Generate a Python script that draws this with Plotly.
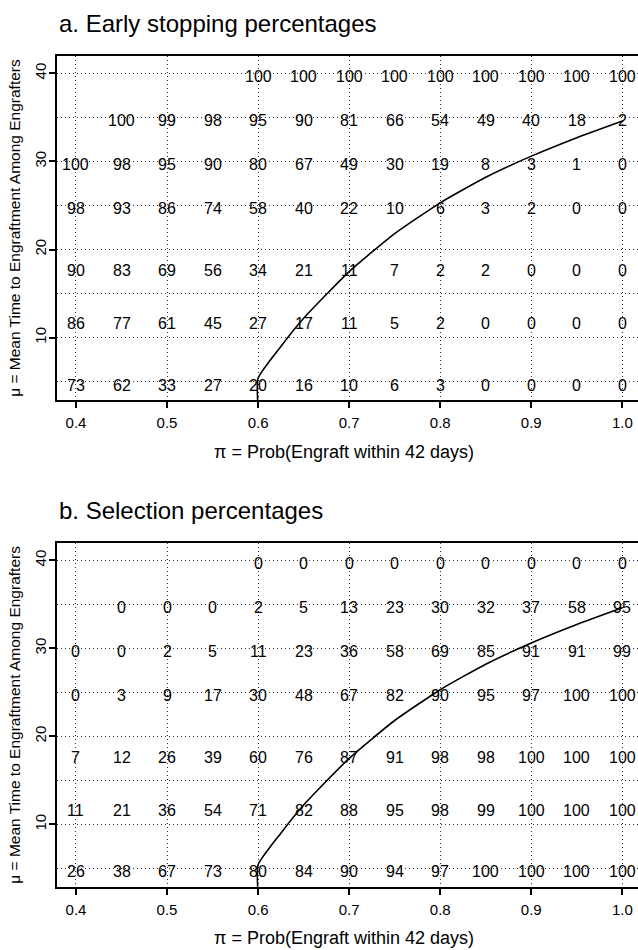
import plotly.graph_objects as go

# ---------------- data ----------------
pi_values = [0.40, 0.45, 0.50, 0.55, 0.60, 0.65, 0.70, 0.75, 0.80, 0.85, 0.90, 0.95, 1.00]
mu_values = [40, 35, 30, 25, 18, 12, 5]

early_stop = [
    [None, None, None, None, 100, 100, 100, 100, 100, 100, 100, 100, 100],
    [None, 100, 99, 98, 95, 90, 81, 66, 54, 49, 40, 18, 2],
    [100, 98, 95, 90, 80, 67, 49, 30, 19, 8, 3, 1, 0],
    [98, 93, 86, 74, 58, 40, 22, 10, 6, 3, 2, 0, 0],
    [90, 83, 69, 56, 34, 21, 11, 7, 2, 2, 0, 0, 0],
    [86, 77, 61, 45, 27, 17, 11, 5, 2, 0, 0, 0, 0],
    [73, 62, 33, 27, 20, 16, 10, 6, 3, 0, 0, 0, 0],
]

selection = [
    [None, None, None, None, 0, 0, 0, 0, 0, 0, 0, 0, 0],
    [None, 0, 0, 0, 2, 5, 13, 23, 30, 32, 37, 58, 95],
    [0, 0, 2, 5, 11, 23, 36, 58, 69, 85, 91, 91, 99],
    [0, 3, 9, 17, 30, 48, 67, 82, 90, 95, 97, 100, 100],
    [7, 12, 26, 39, 60, 76, 87, 91, 98, 98, 100, 100, 100],
    [11, 21, 36, 54, 71, 82, 88, 95, 98, 99, 100, 100, 100],
    [26, 38, 67, 73, 80, 84, 90, 94, 97, 100, 100, 100, 100],
]

curve_pi = [0.600, 0.600, 0.625, 0.650, 0.700, 0.750, 0.800, 0.850, 0.900, 0.950, 1.000]
curve_mu = [2.0, 5.4, 9.0, 12.2, 17.5, 21.8, 25.3, 28.2, 30.6, 32.7, 34.6]

x_ticks = [0.4, 0.5, 0.6, 0.7, 0.8, 0.9, 1.0]
y_ticks = [10, 20, 30, 40]

panel_titles = ["a. Early stopping percentages", "b. Selection percentages"]
x_title = "π = Prob(Engraft within 42 days)"
y_title = "μ = Mean Time to Engraftment Among Engrafters"

# ---------------- layout geometry (px) ----------------
W, H = 638, 950
FONT = "Liberation Sans, Arial, Helvetica, sans-serif"
left_px, right_px = 57.3, 638
panels_px = [(55.7, 400.0), (542.7, 886.7)]  # (top, bottom)


def px_x(p):
    return p / W


def px_y(p):
    return 1 - p / H


fig = go.Figure()
annotations = []

for k, (grid, (top, bot)) in enumerate(zip([early_stop, selection], panels_px)):
    sfx = "" if k == 0 else str(k + 1)
    xa, ya = "x" + sfx, "y" + sfx

    # curve
    fig.add_trace(go.Scatter(
        x=curve_pi, y=curve_mu, mode="lines",
        line=dict(color="black", width=1.6, shape="spline", smoothing=0.5),
        xaxis=xa, yaxis=ya, showlegend=False, hoverinfo="skip"))

    # cell numbers
    for r, mu in enumerate(mu_values):
        for c, p in enumerate(pi_values):
            v = grid[r][c]
            if v is None:
                continue
            annotations.append(dict(
                x=p, y=mu, xref=xa, yref=ya, text=str(v), showarrow=False,
                xanchor="center", yanchor="middle", yshift=-3.5,
                font=dict(family=FONT, size=16, color="black")))

    axis_common = dict(
        showline=True, linecolor="black", linewidth=2,
        ticks="outside", ticklen=6, tickwidth=1.5, tickcolor="black",
        tickfont=dict(family=FONT, size=15, color="black"),
        showgrid=True, gridcolor="#333", gridwidth=1, griddash="1px,3px",
        zeroline=False,
    )
    fig.layout["xaxis" + sfx] = dict(
        axis_common, domain=[px_x(left_px), px_x(right_px)],
        range=[0.3795, 1.0172], tickvals=x_ticks, tickformat=".1f",
        anchor=ya, mirror=True, ticklabelstandoff=2)
    fig.layout["yaxis" + sfx] = dict(
        axis_common, domain=[px_y(bot), px_y(top)],
        range=[2.92, 42.0], tickvals=y_ticks, tickangle=-90,
        anchor=xa, mirror=False, ticklabelstandoff=-3,
        minor=dict(dtick=5, tick0=0, showgrid=True, gridcolor="#333",
                   gridwidth=1, griddash="1px,3px", ticks=""))

    # panel title
    annotations.append(dict(
        x=px_x(left_px), y=px_y(top - 32), xref="paper", yref="paper",
        text=panel_titles[k], showarrow=False, xanchor="left", yanchor="middle",
        font=dict(family=FONT, size=24, color="black")))
    # x title
    annotations.append(dict(
        x=px_x((left_px + right_px) / 2 - 4), y=px_y(bot + 51.7), xref="paper", yref="paper",
        text=x_title, showarrow=False, xanchor="center", yanchor="middle",
        font=dict(family=FONT, size=18, color="black")))
    # y title
    annotations.append(dict(
        x=px_x(15), y=px_y((top + bot) / 2), xref="paper", yref="paper",
        text=y_title, showarrow=False, textangle=-90, xanchor="center", yanchor="middle",
        font=dict(family=FONT, size=15.5, color="black")))

fig.update_layout(
    width=W, height=H, margin=dict(l=0, r=0, t=0, b=0),
    paper_bgcolor="white", plot_bgcolor="white",
    annotations=annotations, showlegend=False,
)

fig.write_html("out.html", config={"displayModeBar": False},
               post_script="document.body.style.margin='0';document.body.style.overflow='hidden';")
